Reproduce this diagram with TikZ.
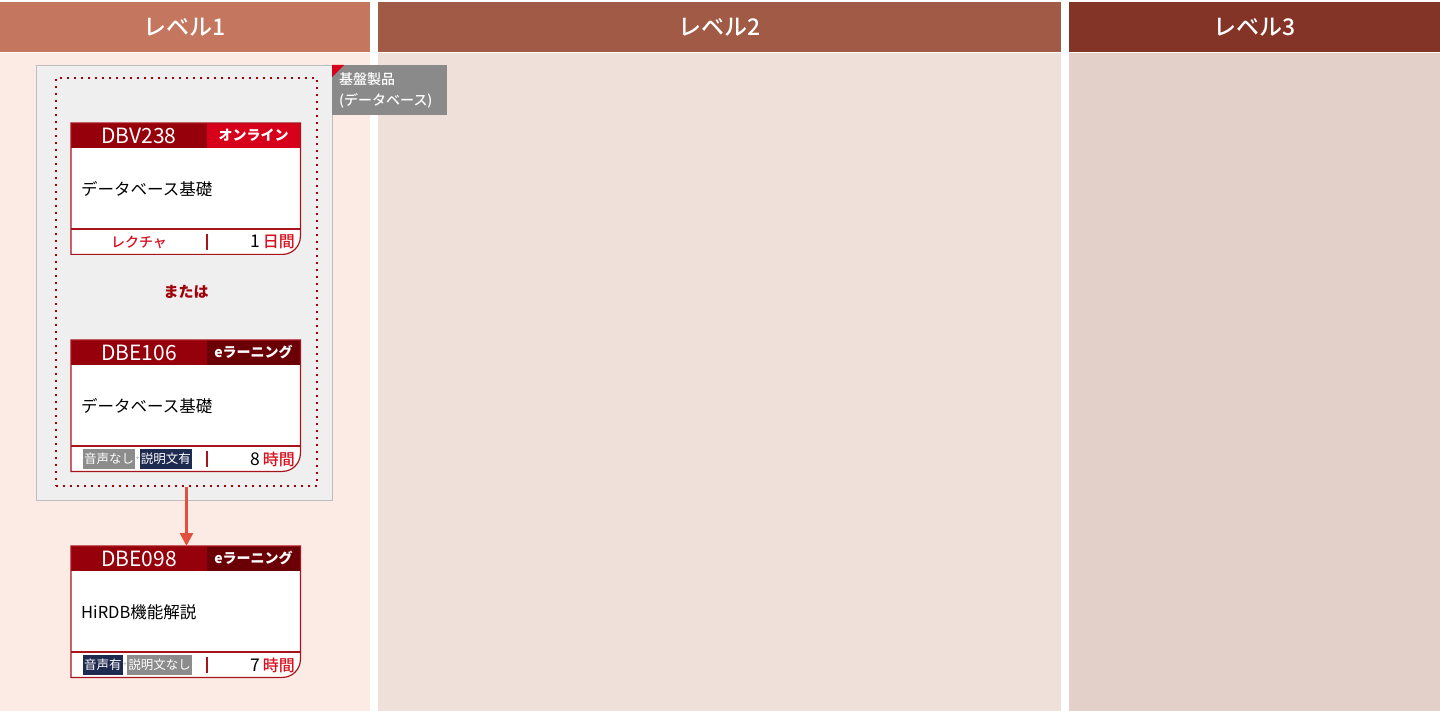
\documentclass[tikz,border=0pt]{standalone}
\usepackage{fontspec}
\setmainfont{Noto Sans CJK JP}
\newfontfamily\mediumfont{Noto Sans CJK JP Medium}
\usetikzlibrary{arrows.meta}
\definecolor{lvheada}{HTML}{C4765E}
\definecolor{lvheadb}{HTML}{A05A46}
\definecolor{lvheadc}{HTML}{833426}
\definecolor{lvbodya}{HTML}{FCEBE5}
\definecolor{lvbodyb}{HTML}{EFE0DA}
\definecolor{lvbodyc}{HTML}{E3D0C8}
\definecolor{grpfill}{HTML}{EEEFEE}
\definecolor{grpline}{HTML}{BDBDBD}
\definecolor{dotred}{HTML}{A0000A}
\definecolor{taggray}{HTML}{8A8A8A}
\definecolor{cardhead}{HTML}{95000A}
\definecolor{cardline}{HTML}{A8141C}
\definecolor{badgeon}{HTML}{D7001A}
\definecolor{badgeel}{HTML}{6A0006}
\definecolor{dayred}{HTML}{D7101E}
\definecolor{navytag}{HTML}{1E2A50}
\definecolor{graytag}{HTML}{8C8C8C}
\definecolor{arrowred}{HTML}{E0503C}

\begin{document}
\begin{tikzpicture}[x=1pt,y=-1pt,
    every node/.style={inner sep=0pt},
    lvhead/.style={minimum width=#1, minimum height=50, text=white, font=\fontsize{23}{23}\mediumfont},
    cardbox/.style={minimum width=229, minimum height=131},
    codetext/.style={text=white, font=\fontsize{21}{21}\selectfont},
    badgetext/.style={text=white, font=\fontsize{14}{14}\selectfont\bfseries},
    titletext/.style={text=black, font=\fontsize{16.5}{16.5}\selectfont},
    footred/.style={text=dayred, font=\fontsize{14}{14}\mediumfont},
    voicetag/.style={text=white, minimum height=20, inner xsep=1pt, font=\fontsize{12.5}{12.5}\selectfont}]
    \useasboundingbox (0,0) rectangle (1440,711);
    % level columns
    \fill[lvbodya] (0,53) rectangle (370,711);
    \fill[lvbodyb] (378,53) rectangle (1061,711);
    \fill[lvbodyc] (1069,53) rectangle (1440,711);
    \node[lvhead=370, fill=lvheada] (lv_1) at (185,27) {レベル1};
    \node[lvhead=683, fill=lvheadb] (lv_2) at (719.5,27) {レベル2};
    \node[lvhead=371, fill=lvheadc] (lv_3) at (1254.5,27) {レベル3};
    %
    % base product group
    \node[draw=grpline, fill=grpfill, minimum width=296, minimum height=435, anchor=north west] (grp) at (36,65) {};
    \node[draw=dotred, line width=2pt, dash pattern=on 2pt off 5pt, minimum width=261, minimum height=408, anchor=north west] (grp_in) at (55,77) {};
    \node[fill=taggray, text=white, anchor=north west, minimum height=50, text width=101pt, inner xsep=7pt, align=left,
      font=\fontsize{14}{21}\mediumfont] (grp_tag) at (332,65) {基盤製品\\(データベース)};
    \fill[badgeon] (grp_tag.north west) -- ++(12,0) -- ++(-12,12) -- cycle;
    %
    % cards
    \foreach \y/\i/\code/\badge/\bcol/\title/\num/\unit in {
        123/1/DBV238/オンライン/badgeon/データベース基礎/1/日間,
        340/2/DBE106/eラーニング/badgeel/データベース基礎/8/時間,
        546/3/DBE098/eラーニング/badgeel/HiRDB機能解説/7/時間} {
      \node[cardbox, anchor=north west] (c_\i) at (71,\y) {};
      \fill[white] (c_\i.north west) -- (c_\i.north east) -- ([yshift=18pt]c_\i.south east)
        arc[start angle=0, end angle=90, radius=18] -- (c_\i.south west) -- cycle;
      \fill[cardhead] (71,\y) rectangle (300,\y+25);
      \fill[\bcol] (207,\y) rectangle (300,\y+25);
      \draw[cardline, line width=1.2pt] (c_\i.north west) -- (c_\i.north east) -- ([yshift=18pt]c_\i.south east)
        arc[start angle=0, end angle=90, radius=18] -- (c_\i.south west) -- cycle;
      \draw[cardline, line width=1.2pt] (71,\y+106) -- (300,\y+106);
      \draw[cardline, line width=1.2pt] (207,\y+111) -- (207,\y+127);
      \node[codetext] (code_\i) at (139,\y+12.5) {\code};
      \node[badgetext] (badge_\i) at (253.5,\y+12.5) {\badge};
      \node[titletext, anchor=west] (title_\i) at (81,\y+66) {\title};
      \node[anchor=east, font=\fontsize{17.5}{17.5}\selectfont] (time_\i) at (295,\y+119)
        {\num\,{\color{dayred}\fontsize{16}{16}\mediumfont\unit}};
    }
    %
    % footers
    \node[footred] (kind_1) at (139,242) {レクチャ};
    \node[voicetag, fill=graytag, anchor=west] (snd_2) at (83,459) {音声なし};
    \node[text=graytag, anchor=west, inner xsep=0.3pt, font=\fontsize{6}{6}\selectfont] (plus_2) at (snd_2.east) {+};
    \node[voicetag, fill=navytag, anchor=west] (txt_2) at (plus_2.east) {説明文有};
    \node[voicetag, fill=navytag, anchor=west] (snd_3) at (83,665) {音声有};
    \node[text=graytag, anchor=west, inner xsep=0.3pt, font=\fontsize{6}{6}\selectfont] (plus_3) at (snd_3.east) {+};
    \node[voicetag, fill=graytag, anchor=west] (txt_3) at (plus_3.east) {説明文なし};
    %
    \node[text=dotred, font=\fontsize{15}{15}\selectfont\bfseries] (or_1) at (186,292) {または};
    \draw[arrowred, line width=2.5pt, -{Triangle[length=13pt, width=13pt]}] (grp_in.south) -- (grp_in.south |- c_3.north);
\end{tikzpicture}
\end{document}
